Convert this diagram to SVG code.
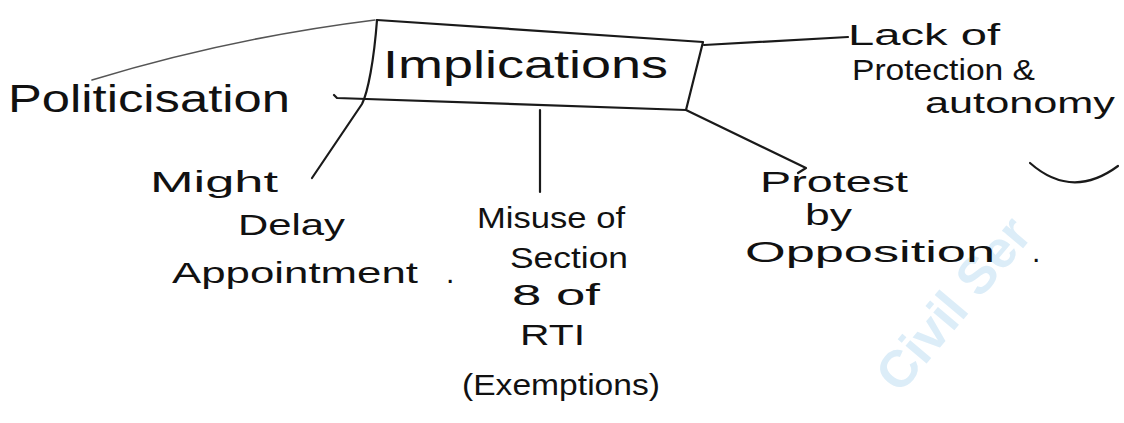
<svg xmlns="http://www.w3.org/2000/svg" width="1124" height="423" viewBox="0 0 1124 423">
  <style>
    .ink { font-family: "Liberation Sans", "DejaVu Sans", sans-serif; fill: #111; font-size: 30px; }
    .big { font-size: 38px; }
    .line { fill: none; stroke: #1a1a1a; stroke-width: 2.2; stroke-linecap: round; stroke-linejoin: round; }
    .thin { fill: none; stroke: #555; stroke-width: 1.6; stroke-linecap: round; }
    .mark { font-family: "Liberation Sans", "DejaVu Sans", sans-serif; fill: #dcedf8; font-size: 52px; font-weight: bold; }
  </style>
  <rect width="1124" height="423" fill="#ffffff"/>

  <!-- faint background mark -->
  <text class="mark" transform="translate(900,395) rotate(-50)">Civil Ser</text>

  <!-- connectors -->
  <g id="connectors">
    <path class="thin" d="M92,80 Q230,38 375,20"/>
    <path class="line" d="M377,20 C374,60 368,92 362,104 L312,178"/>
    <path class="line" d="M704,45 L848,37"/>
    <path class="line" d="M686,110 L806,168 L798,173"/>
    <path class="line" d="M540,110 L540,192"/>
    <path class="line" d="M1030,163 Q1072,200 1118,166"/>
  </g>

  <!-- central box -->
  <g id="implications">
    <path class="line" d="M377,20 L703,42 L686,110 L337,98 L334,95"/>
    <text class="ink big" x="383" y="78" textLength="285" lengthAdjust="spacingAndGlyphs">Implications</text>
  </g>

  <g id="politicisation">
    <text class="ink big" x="8" y="112" textLength="282" lengthAdjust="spacingAndGlyphs">Politicisation</text>
  </g>

  <g id="lack-of-protection">
    <text class="ink" x="848" y="45" textLength="152" lengthAdjust="spacingAndGlyphs">Lack of</text>
    <text class="ink" x="852" y="80" textLength="183" lengthAdjust="spacingAndGlyphs">Protection &amp;</text>
    <text class="ink" x="925" y="113" textLength="190" lengthAdjust="spacingAndGlyphs">autonomy</text>
  </g>

  <g id="might-delay">
    <text class="ink" x="150" y="192" textLength="128" lengthAdjust="spacingAndGlyphs">Might</text>
    <text class="ink" x="238" y="235" textLength="107" lengthAdjust="spacingAndGlyphs">Delay</text>
    <text class="ink" x="172" y="283" textLength="246" lengthAdjust="spacingAndGlyphs">Appointment</text>
    <text class="ink" x="446" y="283">.</text>
  </g>

  <g id="misuse-rti">
    <text class="ink" x="477" y="228" textLength="148" lengthAdjust="spacingAndGlyphs">Misuse of</text>
    <text class="ink" x="510" y="268" textLength="118" lengthAdjust="spacingAndGlyphs">Section</text>
    <text class="ink" x="512" y="305" textLength="88" lengthAdjust="spacingAndGlyphs">8 of</text>
    <text class="ink" x="520" y="345" textLength="65" lengthAdjust="spacingAndGlyphs">RTI</text>
    <text class="ink" x="462" y="395" textLength="198" lengthAdjust="spacingAndGlyphs">(Exemptions)</text>
  </g>

  <g id="protest">
    <text class="ink" x="760" y="192" textLength="148" lengthAdjust="spacingAndGlyphs">Protest</text>
    <text class="ink" x="805" y="225" textLength="47" lengthAdjust="spacingAndGlyphs">by</text>
    <text class="ink" x="745" y="262" textLength="250" lengthAdjust="spacingAndGlyphs">Opposition</text>
    <text class="ink" x="1032" y="262">.</text>
  </g>
</svg>
